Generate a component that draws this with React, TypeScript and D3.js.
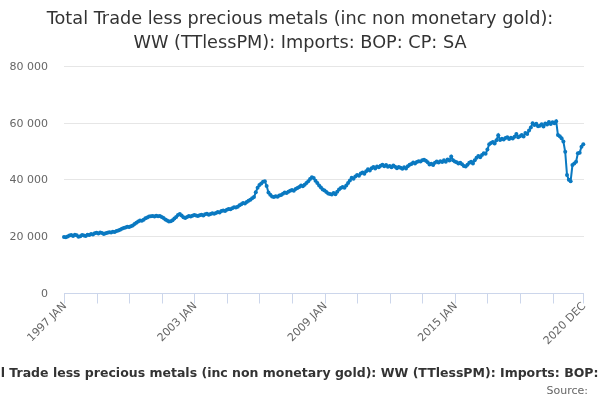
import { useRef, useEffect } from "react";
import * as d3 from "d3";

const months = ["JAN", "FEB", "MAR", "APR", "MAY", "JUN", "JUL", "AUG", "SEP", "OCT", "NOV", "DEC"];
const years = d3.range(1997, 2021);
const categories = years.flatMap((y) => months.map((m) => `${y} ${m}`));

// monthly imports, £ million
const imports = [
	19600, 19500, 19800, 20100, 20300, 20000, 20400, 20200, 19700, 19900, 20300, 20100, // 1997
	20000, 20400, 20300, 20700, 20500, 20900, 21100, 20800, 21200, 21000, 20700, 20900, // 1998
	21100, 21300, 21200, 21500, 21400, 21700, 21900, 22200, 22500, 22800, 23000, 23200, // 1999
	23100, 23400, 23700, 24200, 24600, 25100, 25400, 25300, 25700, 26200, 26500, 26800, // 2000
	26900, 27000, 26800, 27100, 26900, 27000, 26700, 26300, 25800, 25400, 25100, 25200, // 2001
	25500, 26100, 26700, 27400, 27700, 27200, 26600, 26300, 26700, 27000, 26800, 27100, // 2002
	27400, 27200, 27000, 27300, 27500, 27200, 27600, 27800, 27500, 27700, 28000, 27800, // 2003
	28100, 28400, 28300, 28800, 29000, 28800, 29200, 29500, 29400, 29800, 30100, 30000, // 2004
	30300, 30800, 31200, 31600, 31400, 32000, 32400, 32800, 33300, 33700, 35400, 37000, // 2005
	38000, 38500, 39100, 39300, 37600, 35300, 34500, 33900, 33700, 34000, 33800, 34300, // 2006
	34400, 34900, 35300, 35100, 35600, 35900, 36200, 35900, 36600, 36900, 37300, 37800, // 2007
	37500, 38100, 38700, 39300, 40100, 40700, 40400, 39500, 38700, 37800, 37100, 36400, // 2008
	36000, 35500, 35000, 34800, 34600, 35100, 34700, 35600, 36400, 36900, 37300, 37000, // 2009
	37800, 38700, 39600, 40500, 40200, 41000, 41500, 41200, 42000, 42400, 41900, 42800, // 2010
	43500, 43100, 43900, 44300, 43800, 44500, 44200, 44800, 45100, 44600, 45000, 44400, // 2011
	44700, 44200, 44900, 44400, 43900, 44300, 44100, 43700, 44200, 43800, 44600, 45100, // 2012
	45400, 45900, 45600, 46100, 46400, 46300, 46700, 46900, 46500, 46000, 45200, 45500, // 2013
	45000, 45800, 46300, 45900, 46400, 46100, 46700, 46200, 47000, 46600, 48000, 46700, // 2014
	46300, 46000, 45600, 45800, 45300, 44700, 44500, 45100, 45800, 46200, 45600, 46700, // 2015
	47600, 48200, 47800, 48600, 49200, 49000, 50500, 52400, 52800, 53200, 52600, 53800, // 2016
	55500, 53900, 54300, 54000, 54600, 54800, 54200, 54700, 54400, 55000, 56000, 54800, // 2017
	55200, 55600, 55100, 56300, 56000, 57200, 58300, 59800, 59200, 59600, 58700, 58900, // 2018
	59400, 58600, 59700, 59300, 60200, 59500, 60100, 59800, 60500, 55600, 55200, 54500, // 2019
	53300, 49700, 41500, 39800, 39300, 45000, 45600, 46200, 49200, 49400, 51500, 52400, // 2020
];

const yTicks = [0, 20000, 40000, 60000, 80000];
const tickIndexes = [...d3.range(0, 271, 18), 287];
const labelIndexes = [0, 72, 144, 216, 287];

const titleLines = [
	"Total Trade less precious metals (inc non monetary gold):",
	"WW (TTlessPM): Imports: BOP: CP: SA",
];
const seriesName = "Total Trade less precious metals (inc non monetary gold): WW (TTlessPM): Imports: BOP: CP: SA";

export default function App() {
	const svgRef = useRef(null);

	useEffect(() => {
		const width = 600,
			height = 400;
		const font = "'DejaVu Sans', sans-serif";
		const blue = "#0a79c1";

		const svg = d3
			.select(svgRef.current)
			.attr("width", width)
			.attr("height", height)
			.style("font-family", font);

		const x = d3.scaleLinear().domain([0, categories.length - 1]).range([64, 583.3]);
		const y = d3.scaleLinear().domain([0, 80000]).range([292.5, 66]);

		// title
		svg.append("text")
			.attr("x", 300)
			.attr("text-anchor", "middle")
			.attr("fill", "#333333")
			.style("font-size", "17.7px")
			.selectAll("tspan")
			.data(titleLines)
			.enter()
			.append("tspan")
			.attr("x", 300)
			.attr("y", (d, i) => 24 + i * 24)
			.text((d) => d);

		// gridlines + y labels
		svg.append("g")
			.selectAll("line")
			.data(yTicks.filter((d) => d > 0))
			.enter()
			.append("line")
			.attr("x1", 64)
			.attr("x2", 584)
			.attr("y1", (d) => Math.round(y(d)) + 0.5)
			.attr("y2", (d) => Math.round(y(d)) + 0.5)
			.attr("stroke", "#e6e6e6");

		svg.append("g")
			.selectAll("text")
			.data(yTicks)
			.enter()
			.append("text")
			.attr("x", 48)
			.attr("y", (d) => y(d) + 4)
			.attr("text-anchor", "end")
			.attr("fill", "#666666")
			.style("font-size", "11px")
			.text((d) => d3.format(",")(d).replace(/,/g, " "));

		// x axis
		const axisY = Math.round(y(0)) + 0.5;
		svg.append("line")
			.attr("x1", 64)
			.attr("x2", 584)
			.attr("y1", axisY)
			.attr("y2", axisY)
			.attr("stroke", "#ccd6eb");

		svg.append("g")
			.selectAll("line")
			.data(tickIndexes)
			.enter()
			.append("line")
			.attr("x1", (d) => Math.round(x(d)) + 0.5)
			.attr("x2", (d) => Math.round(x(d)) + 0.5)
			.attr("y1", axisY)
			.attr("y2", axisY + 10)
			.attr("stroke", "#ccd6eb");

		svg.append("g")
			.selectAll("text")
			.data(labelIndexes)
			.enter()
			.append("text")
			.attr("transform", (d) => `translate(${x(d) + 3},${axisY + 13}) rotate(-45)`)
			.attr("text-anchor", "end")
			.attr("fill", "#666666")
			.style("font-size", "11px")
			.text((d) => categories[d]);

		// series
		const line = d3
			.line()
			.x((d, i) => x(i))
			.y((d) => y(d));

		svg.append("path")
			.datum(imports)
			.attr("d", line)
			.attr("fill", "none")
			.attr("stroke", blue)
			.attr("stroke-width", 2);

		svg.append("g")
			.selectAll("circle")
			.data(imports)
			.enter()
			.append("circle")
			.attr("cx", (d, i) => x(i))
			.attr("cy", (d) => y(d))
			.attr("r", 2)
			.attr("fill", blue);

		// caption (legend item, wider than the chart as in the original)
		svg.append("text")
			.attr("x", 310)
			.attr("y", 377)
			.attr("text-anchor", "middle")
			.attr("fill", "#333333")
			.style("font-size", "12.5px")
			.style("font-weight", "bold")
			.text(seriesName);

		svg.append("text")
			.attr("x", 588)
			.attr("y", 394)
			.attr("text-anchor", "end")
			.attr("fill", "#666666")
			.style("font-size", "11px")
			.text("Source:");

		return () => {
			d3.select(svgRef.current).selectAll("*").remove();
		};
	}, []);

	return (
		<div style={{ position: "fixed", left: 0, top: 0 }}>
			<svg ref={svgRef} style={{ display: "block" }}></svg>
		</div>
	);
}
